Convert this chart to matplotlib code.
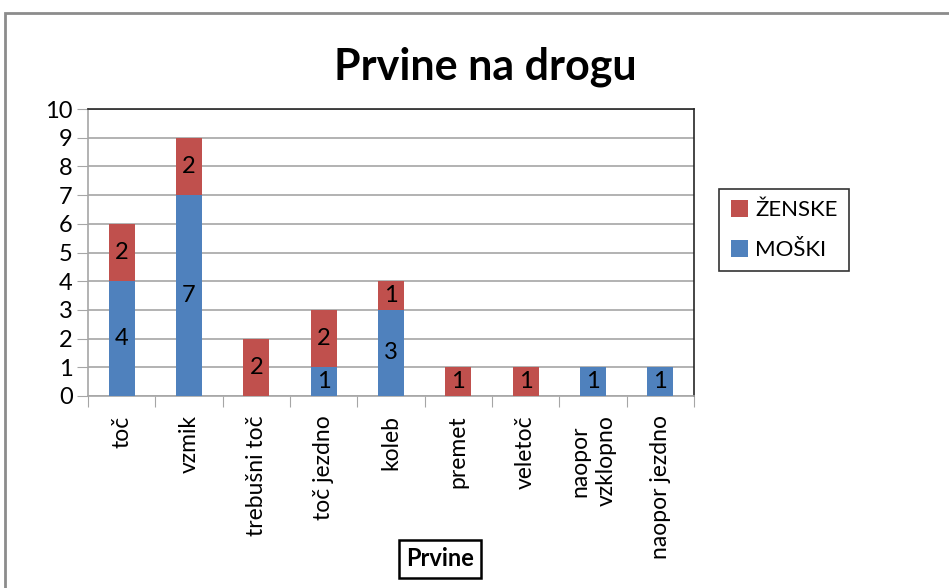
import numpy as np
import matplotlib.pyplot as plt
from matplotlib.patches import Rectangle

plt.rcParams['font.family'] = ['Lato', 'DejaVu Sans']

categories = ['toč', 'vzmik', 'trebušni toč', 'toč jezdno', 'koleb',
              'premet', 'veletoč', 'naopor\nvzklopno', 'naopor jezdno']
moski = [4, 7, 0, 1, 3, 0, 0, 1, 1]
zenske = [2, 2, 2, 2, 1, 1, 1, 0, 0]

blue = '#4F81BD'
red = '#C0504D'
grid_col = '#A6A6A6'

fig = plt.figure(figsize=(9.49, 5.88), dpi=100)

# outer chart frame (runs off the right and bottom of the picture)
fig.patches.append(Rectangle((5/949, -0.05), 1.2, 1 - 13/588 + 0.05,
                             transform=fig.transFigure, fill=False,
                             edgecolor='#8C8C8C', linewidth=2))

ax = fig.add_axes([88/949, 1 - 396/588, (694 - 88)/949, (396 - 109)/588])

x = np.arange(len(categories))
w = 0.39
b1 = ax.bar(x, moski, w, color=blue, label='MOŠKI', zorder=3)
b2 = ax.bar(x, zenske, w, bottom=moski, color=red, label='ŽENSKE', zorder=3)

for i in range(len(categories)):
    if moski[i]:
        ax.text(x[i], moski[i] / 2, str(moski[i]), ha='center', va='center',
                fontsize=17, zorder=4)
    if zenske[i]:
        ax.text(x[i], moski[i] + zenske[i] / 2, str(zenske[i]), ha='center',
                va='center', fontsize=17, zorder=4)

ax.set_xlim(-0.5, len(categories) - 0.5)
ax.set_ylim(0, 10)
ax.set_yticks(range(0, 11))
ax.tick_params(axis='y', labelsize=17, length=8, color=grid_col, pad=3)
ax.yaxis.grid(True, color=grid_col, linewidth=1.2, zorder=0)

ax.set_xticks(np.arange(-0.5, len(categories), 1.0))
ax.set_xticklabels([])
ax.tick_params(axis='x', length=8, color=grid_col)
ax.set_xticks(x, minor=True)
ax.set_xticklabels(categories, minor=True, rotation=90, fontsize=16.5,
                   va='top', ha='center', linespacing=1.35)
ax.tick_params(axis='x', which='minor', length=0, pad=14)

ax.spines['left'].set_color(grid_col)
ax.spines['bottom'].set_color(grid_col)
ax.spines['top'].set_color('#262626')
ax.spines['right'].set_color('#262626')
for s in ax.spines.values():
    s.set_linewidth(1.2)

fig.text(485/949, 1 - 67/588, 'Prvine na drogu', ha='center', va='center',
         fontsize=31, fontweight='bold')

fig.text(440/949, 1 - 559/588, 'Prvine', ha='center', va='center',
         fontsize=17, fontweight='bold',
         bbox=dict(boxstyle='square,pad=0.3', facecolor='white',
                   edgecolor='black', linewidth=1.8))

leg = fig.legend(handles=[b2, b1], labels=['ŽENSKE', 'MOŠKI'],
                 loc='center', bbox_to_anchor=(784/949, 1 - 230/588),
                 fontsize=16, frameon=True, fancybox=False,
                 handlelength=0.8, handleheight=0.8, labelspacing=0.9,
                 handletextpad=0.3, borderpad=0.5, borderaxespad=0)
leg.get_frame().set_edgecolor('black')
leg.get_frame().set_linewidth(1.2)

fig.savefig('out.png', dpi=100)
